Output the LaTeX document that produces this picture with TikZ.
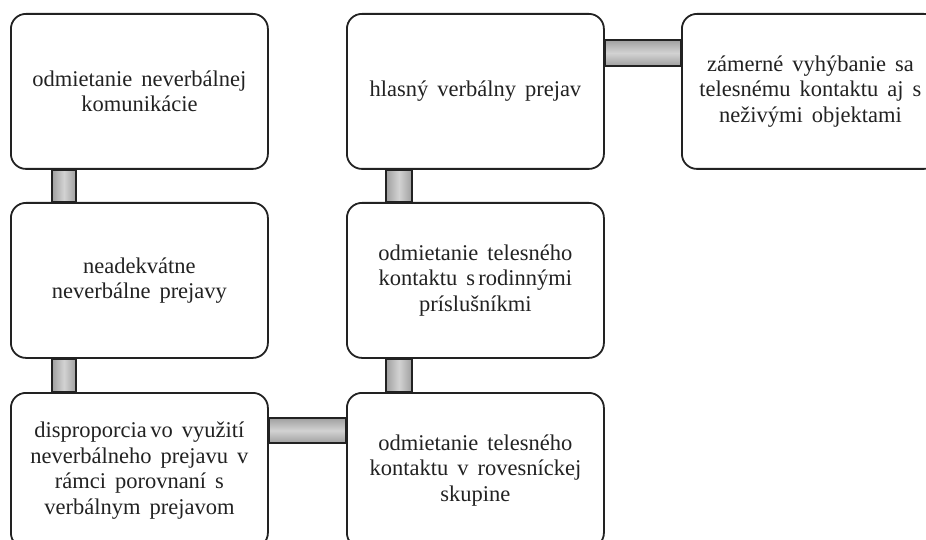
\documentclass[tikz,border=0pt]{standalone}
\usepackage{fontspec}
\setmainfont{Liberation Serif}[WordSpace={1.6,0.5,0.5}]
\usetikzlibrary{calc,backgrounds}
\definecolor{ink}{HTML}{222222}
\tikzset{
  box/.style={draw=ink, line width=1.8pt, rounded corners=15pt, fill=white,
    minimum width=257pt, minimum height=155pt, inner sep=0pt,
    text width=252pt, align=flush center, text=ink, anchor=north west,
    font=\fontsize{22.5}{25.5}\selectfont},
  vconn/.style={draw=ink, line width=1.5pt, left color=gray!75, right color=gray!75, middle color=gray!35},
  hconn/.style={draw=ink, line width=1.5pt, top color=gray!75, bottom color=gray!75, middle color=gray!35}
}
\begin{document}
\begin{tikzpicture}[x=1pt,y=-1pt]
\useasboundingbox (0,0) rectangle (926,540);
\clip (0,0) rectangle (926,540);
\node[box] (a1) at (10,13) {odmietanie neverbálnej\\komunikácie};
\node[box] (a2) at (10,202) {neadekvátne\\neverbálne prejavy};
\node[box] (a3) at (10,392) {disproporcia\hspace{0.15em}vo využití\\neverbálneho prejavu v\\rámci porovnaní s\\verbálnym prejavom};
\node[box] (b1) at (346,13) {hlasný verbálny prejav};
\node[box] (b2) at (346,202) {odmietanie telesného\\kontaktu s\hspace{0.15em}rodinnými\\príslušníkmi};
\node[box] (b3) at (346,392) {odmietanie telesného\\kontaktu v rovesníckej\\skupine};
\node[box] (c1) at (681,13) {zámerné vyhýbanie sa\\telesnému kontaktu aj s\\neživými objektami};
\begin{scope}[on background layer]
\draw[vconn] ($(a1.south west)+(42,0)$) rectangle ($(a2.north west)+(66,0)$);
\draw[vconn] ($(a2.south west)+(42,0)$) rectangle ($(a3.north west)+(66,0)$);
\draw[vconn] ($(b1.south west)+(40,0)$) rectangle ($(b2.north west)+(66,0)$);
\draw[vconn] ($(b2.south west)+(40,0)$) rectangle ($(b3.north west)+(66,0)$);
\draw[hconn] ($(a3.north east)+(0,26)$) rectangle ($(b3.north west)+(0,51)$);
\draw[hconn] ($(b1.north east)+(0,27)$) rectangle ($(c1.north west)+(0,53)$);
\end{scope}
\end{tikzpicture}
\end{document}
